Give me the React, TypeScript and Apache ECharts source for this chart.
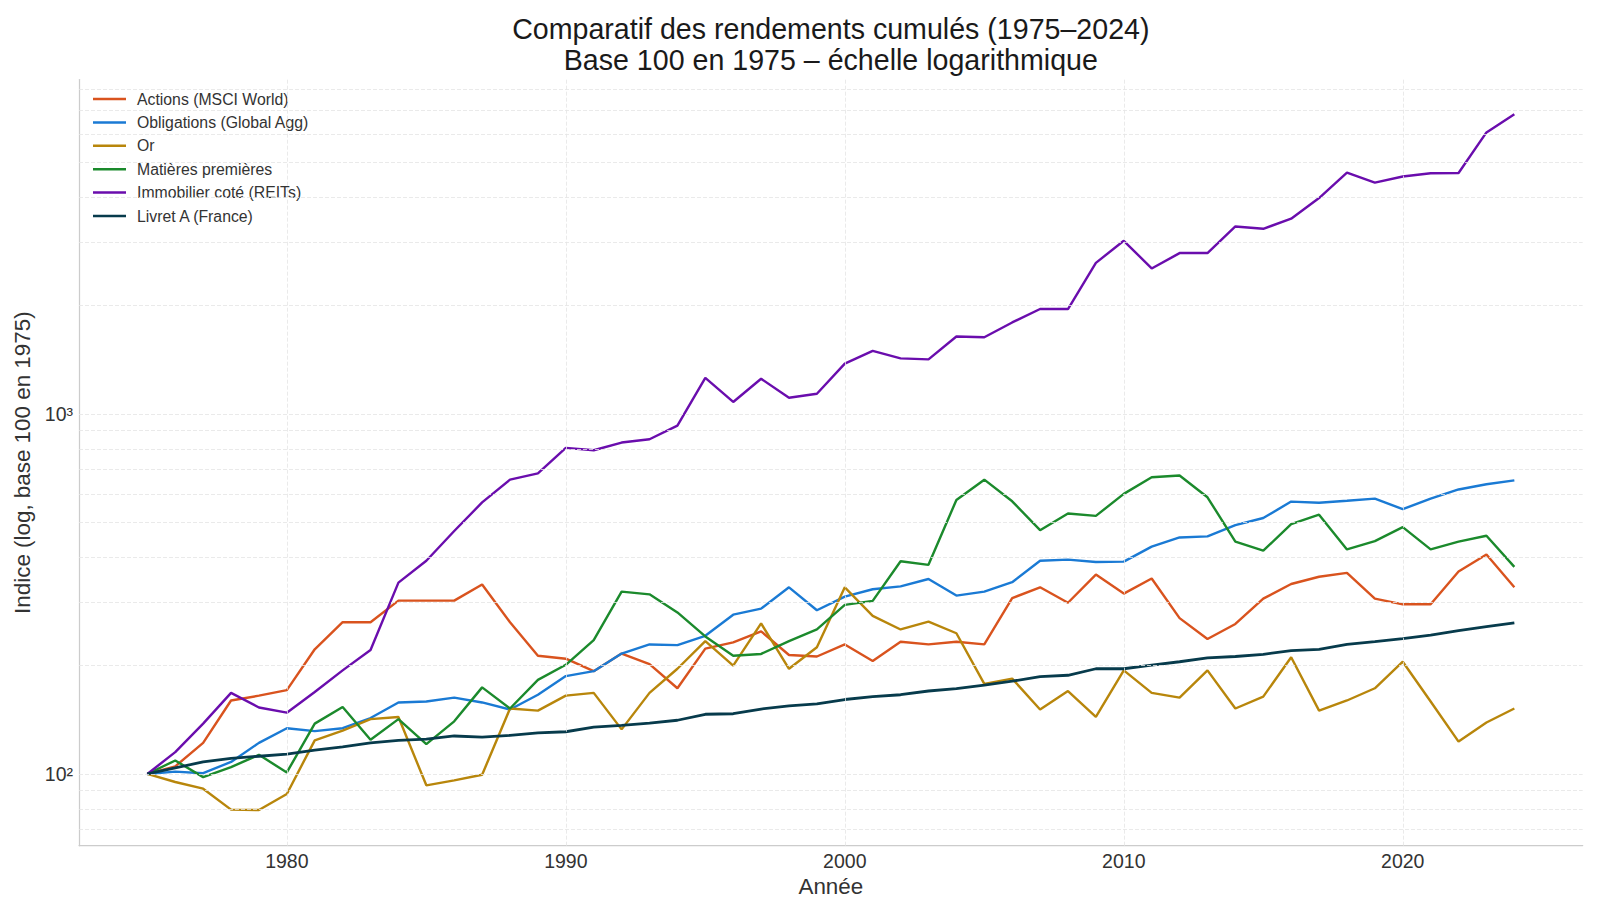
import React, { useEffect, useRef } from "react";
import * as echarts from "echarts";

const years = [
  1975, 1976, 1977, 1978, 1979, 1980, 1981, 1982, 1983, 1984,
  1985, 1986, 1987, 1988, 1989, 1990, 1991, 1992, 1993, 1994,
  1995, 1996, 1997, 1998, 1999, 2000, 2001, 2002, 2003, 2004,
  2005, 2006, 2007, 2008, 2009, 2010, 2011, 2012, 2013, 2014,
  2015, 2016, 2017, 2018, 2019, 2020, 2021, 2022, 2023, 2024,
];

const actions = [
  100, 105, 122, 160, 165, 171, 222, 264, 264, 303,
  303, 303, 336, 264, 213, 209, 193, 216, 202, 173,
  223, 232, 249, 214, 212, 229, 206, 233, 229, 233,
  229, 308, 330, 299, 358, 317, 349, 271, 237, 261,
  307, 337, 353, 362, 307, 296, 296, 365, 407, 330,
];

const obligations = [
  100, 101.5, 100.5, 108, 122, 134, 131.5, 134, 143, 158,
  159, 163, 158, 151, 166, 187, 193, 216, 229, 228,
  242, 277, 288, 330, 285, 311, 326, 332, 348, 313,
  321, 341, 391, 394, 388, 389, 428, 454, 457, 491,
  514, 571, 567, 574, 582, 544, 582, 617, 638, 654,
];

const or = [
  100, 95, 91, 79.6, 79.4, 88, 124, 132, 142, 144,
  93, 96, 99.5, 152, 150, 165, 168, 133, 168, 196,
  234, 200, 262, 196, 225, 330, 275, 252, 265, 246,
  178, 184, 151, 170, 144, 194, 168, 163, 194, 152,
  164, 211, 150, 160, 173, 205, 159, 123, 139, 152,
];

const matieres = [
  100, 109, 98, 104.5, 113, 101, 138, 153.5, 124.5, 142,
  121, 140, 174, 152, 182.5, 201, 235.5, 321, 315.5, 281,
  241, 213, 215.5, 234, 252, 295, 302.5, 390, 381, 577,
  657, 572, 475.5, 529, 521, 600, 667, 675, 587, 442,
  417, 494, 525, 420.5, 443.5, 485, 420.5, 442, 459, 376,
];

const reits = [
  100, 115, 138, 168, 153, 148, 169, 194, 221, 340,
  391, 473, 568, 657, 684, 805, 793, 833, 851, 928,
  1260, 1080, 1253, 1109, 1138, 1380, 1497, 1427, 1418, 1642,
  1633, 1796, 1957, 1957, 2629, 3028, 2537, 2799, 2799, 3318,
  3269, 3487, 3980, 4684, 4393, 4567, 4663, 4670, 6055, 6803,
];

const livretA = [
  100, 104, 108, 110.5, 112, 113.5, 116.5, 119, 122, 124,
  125, 127.5, 126.5, 128, 130, 131, 135, 136.5, 138.5, 141,
  146.5, 147, 151.5, 154.5, 156.5, 161, 164, 166, 170, 172.5,
  176.5, 181, 186.5, 188, 196, 196, 200.5, 205, 210, 212,
  215, 220, 222, 229, 233, 237.5, 243, 250, 256.5, 263,
];

const seriesNames = [
  "Actions (MSCI World)",
  "Obligations (Global Agg)",
  "Or",
  "Matières premières",
  "Immobilier coté (REITs)",
  "Livret A (France)",
];
const seriesValues = [actions, obligations, or, matieres, reits, livretA];
const seriesColors = ["#d9531e", "#1a7ad4", "#b8860b", "#1b8a2c", "#6a0dad", "#073b4c"];
const seriesWidths = [2.4, 2.4, 2.4, 2.4, 2.4, 2.8];

const yGridValues = [70, 80, 90, 100, 200, 300, 400, 500, 600, 700, 800, 900, 1000, 2000, 3000, 4000, 5000, 6000, 7000, 8000];
const xGridValues = [1980, 1990, 2000, 2010, 2020];

const FONT = "'Liberation Sans', Arial, sans-serif";

export default function App() {
  const ref = useRef<HTMLDivElement>(null);

  useEffect(() => {
    if (!ref.current) return;
    const chart = echarts.init(ref.current, undefined, { renderer: "svg" });

    const gridLineStyle = { color: "#e4e4e4", width: 0.8, type: [4, 2] as number[] };

    const lineSeries = seriesNames.map((name, i) => ({
      name,
      type: "line",
      z: 3,
      data: years.map((y, j) => [y, seriesValues[i][j]]),
      showSymbol: false,
      symbol: "none",
      lineStyle: { color: seriesColors[i], width: seriesWidths[i] },
      itemStyle: { color: seriesColors[i] },
      emphasis: { disabled: true },
    }));

    const option = {
      animation: false,
      backgroundColor: "#ffffff",
      textStyle: { fontFamily: FONT },
      title: {
        text: "Comparatif des rendements cumulés (1975–2024)\nBase 100 en 1975 – échelle logarithmique",
        left: 830.8,
        top: 13,
        padding: 0,
        textAlign: "center",
        textStyle: {
          fontFamily: FONT,
          fontSize: 28.6,
          fontWeight: "normal",
          color: "#1a1a1a",
          lineHeight: 31.5,
        },
      },
      legend: {
        data: seriesNames,
        orient: "vertical",
        left: 93,
        top: 90,
        padding: 0,
        itemGap: 5.4,
        itemWidth: 33,
        itemHeight: 2.5,
        icon: "rect",
        textStyle: {
          fontFamily: FONT,
          fontSize: 15.8,
          color: "#333333",
          lineHeight: 18,
          padding: [0, 0, 0, 6],
        },
      },
      grid: { left: 79, right: 17.3, top: 79.6, bottom: 68.3, containLabel: false },
      xAxis: {
        type: "value",
        min: 1972.55,
        max: 2026.45,
        name: "Année",
        nameLocation: "middle",
        nameGap: 22,
        nameTextStyle: { fontFamily: FONT, fontSize: 22.4, color: "#333333" },
        axisLine: { show: true, lineStyle: { color: "#cccccc", width: 1.25 } },
        axisTick: { show: false },
        splitLine: { show: false },
        axisLabel: {
          fontFamily: FONT,
          fontSize: 19.5,
          color: "#333333",
          margin: 5,
          formatter: (v: number) => (Math.abs(v % 10) < 1e-6 ? String(Math.round(v)) : ""),
        },
      },
      yAxis: {
        type: "log",
        logBase: 10,
        min: 63.2,
        max: 8490,
        name: "Indice (log, base 100 en 1975)",
        nameLocation: "middle",
        nameGap: 38,
        nameTextStyle: { fontFamily: FONT, fontSize: 22.4, color: "#333333" },
        axisLine: { show: true, lineStyle: { color: "#cccccc", width: 1.25 } },
        axisTick: { show: false },
        splitLine: { show: false },
        axisLabel: {
          fontFamily: FONT,
          fontSize: 19.5,
          color: "#333333",
          margin: 6,
          formatter: (v: number) => {
            if (Math.abs(v - 100) < 1e-6) return "10²";
            if (Math.abs(v - 1000) < 1e-6) return "10³";
            return "";
          },
        },
      },
      series: [
        {
          name: "grid",
          type: "line",
          z: 1,
          data: [[1975, 100]],
          showSymbol: false,
          symbol: "none",
          lineStyle: { opacity: 0 },
          silent: true,
          markLine: {
            silent: true,
            symbol: ["none", "none"],
            label: { show: false },
            lineStyle: gridLineStyle,
            emphasis: { disabled: true },
            data: [
              ...yGridValues.map((v) => ({ yAxis: v })),
              ...xGridValues.map((v) => ({ xAxis: v })),
            ],
          },
        },
        ...lineSeries,
      ],
    };

    chart.setOption(option as any);
    return () => chart.dispose();
  }, []);

  return (
    <div
      ref={ref}
      style={{ position: "absolute", left: 0, top: 0, width: 1600, height: 914 }}
    />
  );
}
